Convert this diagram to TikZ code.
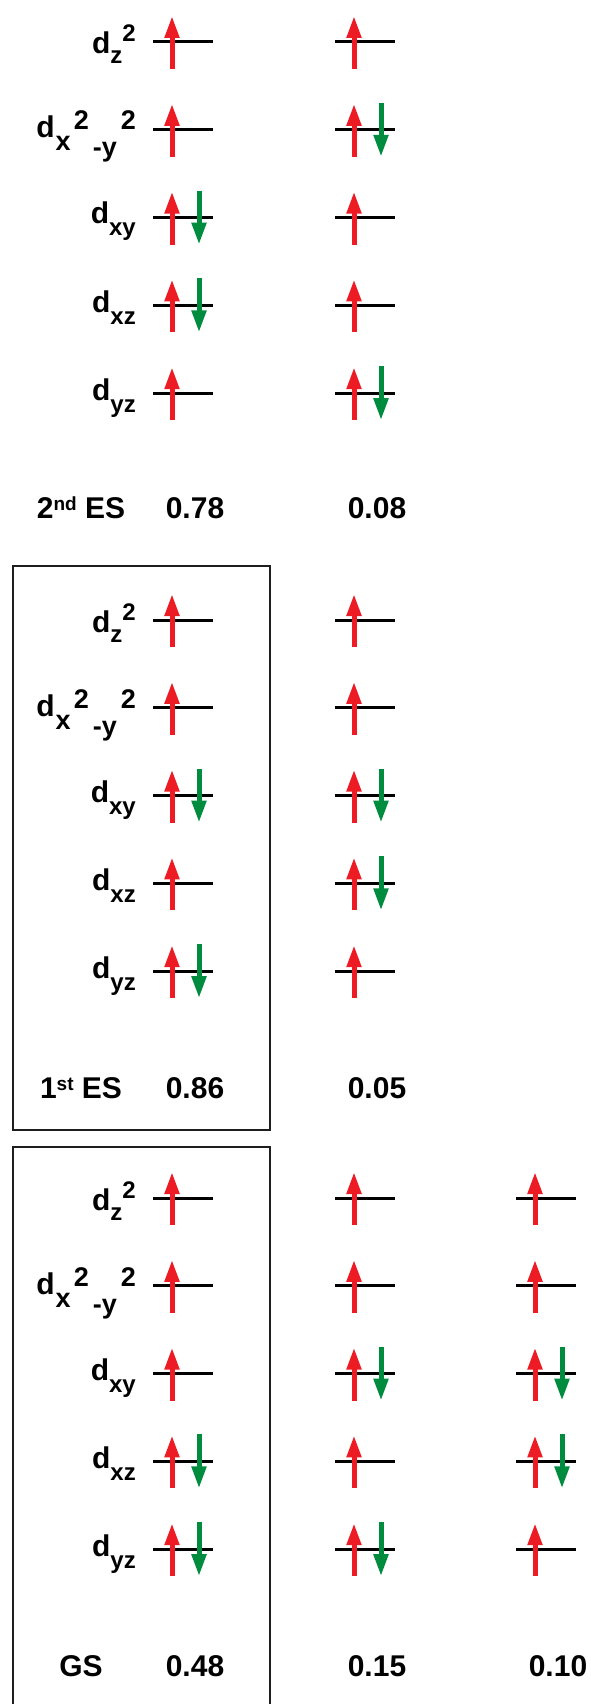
\documentclass[tikz,border=0pt]{standalone}
\usepackage{fontspec}
\setmainfont{Liberation Sans}
\usetikzlibrary{arrows.meta}
\definecolor{spinred}{RGB}{237,28,36}
\definecolor{spingreen}{RGB}{0,140,62}
\definecolor{boxline}{RGB}{30,30,30}

\newcommand{\ssz}{\fontsize{24}{28}\selectfont}
\newcommand{\msz}{\fontsize{27}{31}\selectfont}
\newcommand{\dzz}{d\raisebox{-10pt}{\ssz z}\raisebox{12pt}{\ssz 2}}
\newcommand{\dxy}{d\kern1pt\raisebox{-13pt}{\msz x}\kern3pt\raisebox{8pt}{\msz 2}\kern4pt\raisebox{-19pt}{\msz -y}\kern4pt\raisebox{8pt}{\msz 2}}
\newcommand{\dsub}[1]{d\raisebox{-12pt}{\ssz #1}}
\newcommand{\stlabel}[2]{#1\raisebox{8pt}{\fontsize{19}{22}\selectfont #2} ES}

\begin{document}
\begin{tikzpicture}[
  x=1pt, y=-1pt,
  lvl/.style={draw=black, line width=3pt},
  upsp/.style={draw=spinred, line width=5pt, -{Triangle[width=14pt,length=22pt]}},
  dnsp/.style={draw=spingreen, line width=5pt, -{Triangle[width=14pt,length=22pt]}},
  orb/.style={font=\bfseries\fontsize{30}{36}\selectfont, anchor=base east, inner sep=0pt},
  val/.style={font=\bfseries\fontsize{30}{36}\selectfont, anchor=base, inner sep=0pt},
  statebox/.style={draw=boxline, line width=2pt},
  pics/one/.style={code={
    \draw[lvl] (0,0) -- (60,0);
    \draw[upsp] (19,27) -- (19,-26);}},
  pics/two/.style={code={
    \pic {one};
    \draw[dnsp] (46,-27) -- (46,27);}}
]
\useasboundingbox (0,0) rectangle (590,1704);

% frames
\draw[statebox] (13,566) rectangle (270,1130);
\draw[statebox] (13,1710) -- (13,1147) -- (270,1147) -- (270,1710);

% 2nd ES
\node[orb] (a1) at (136,54) {\dzz};
\node[orb] (a2) at (136,138) {\dxy};
\node[orb] (a3) at (136,224) {\dsub{xy}};
\node[orb] (a4) at (136,312) {\dsub{xz}};
\node[orb] (a5) at (136,400) {\dsub{yz}};
\foreach \occ [count=\i from 0] in {one,one,two,two,one}
  \pic at (153,{42+87.8*\i}) {\occ};
\foreach \occ [count=\i from 0] in {one,two,one,one,two}
  \pic at (335,{42+87.8*\i}) {\occ};
\node[val] (asl) at (81,518) {\stlabel{2}{nd}};
\node[val] (aw1) at (195,518) {0.78};
\node[val] (aw2) at (377,518) {0.08};

% 1st ES
\node[orb] (b1) at (136,632) {\dzz};
\node[orb] (b2) at (136,716) {\dxy};
\node[orb] (b3) at (136,802) {\dsub{xy}};
\node[orb] (b4) at (136,890) {\dsub{xz}};
\node[orb] (b5) at (136,978) {\dsub{yz}};
\foreach \occ [count=\i from 0] in {one,one,two,one,two}
  \pic at (153,{620+87.8*\i}) {\occ};
\foreach \occ [count=\i from 0] in {one,one,two,two,one}
  \pic at (335,{620+87.8*\i}) {\occ};
\node[val] (bsl) at (81,1098) {\stlabel{1}{st}};
\node[val] (bw1) at (195,1098) {0.86};
\node[val] (bw2) at (377,1098) {0.05};

% GS
\node[orb] (c1) at (136,1210) {\dzz};
\node[orb] (c2) at (136,1294) {\dxy};
\node[orb] (c3) at (136,1380) {\dsub{xy}};
\node[orb] (c4) at (136,1468) {\dsub{xz}};
\node[orb] (c5) at (136,1556) {\dsub{yz}};
\foreach \occ [count=\i from 0] in {one,one,one,two,two}
  \pic at (153,{1198+87.8*\i}) {\occ};
\foreach \occ [count=\i from 0] in {one,one,two,one,two}
  \pic at (335,{1198+87.8*\i}) {\occ};
\foreach \occ [count=\i from 0] in {one,one,two,two,one}
  \pic at (516,{1198+87.8*\i}) {\occ};
\node[val] (csl) at (81,1676) {GS};
\node[val] (cw1) at (195,1676) {0.48};
\node[val] (cw2) at (377,1676) {0.15};
\node[val] (cw3) at (558,1676) {0.10};
\end{tikzpicture}
\end{document}
